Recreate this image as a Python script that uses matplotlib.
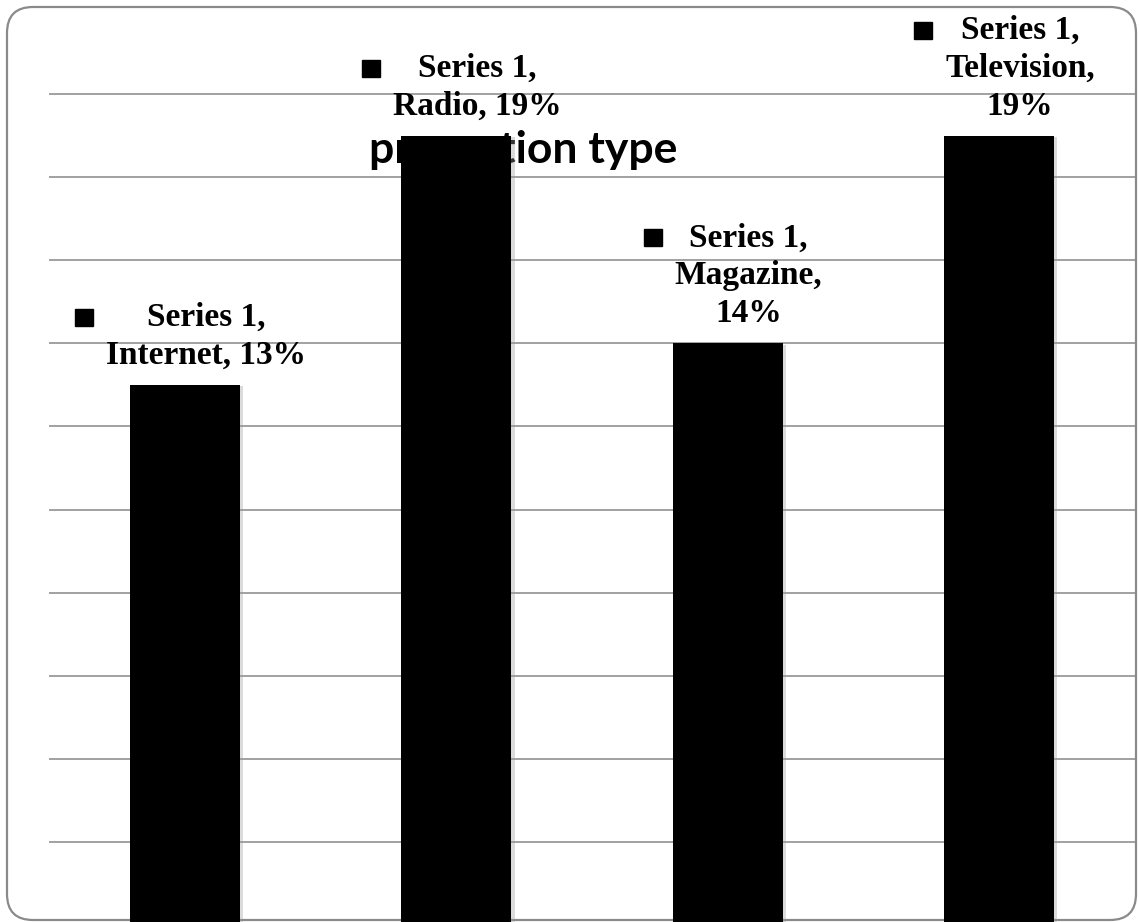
import numpy as np
import matplotlib
matplotlib.use('Agg')
from matplotlib import pyplot as plt
from matplotlib.patches import FancyBboxPatch, Rectangle
from matplotlib.transforms import IdentityTransform
import matplotlib.patheffects as pe

categories  = ['Internet', 'Radio', 'Magazine', 'Television']
values      = [0.13, 0.19, 0.14, 0.19]
data_labels = ['Series 1,\nInternet, 13%',
               'Series 1,\nRadio, 19%',
               'Series 1,\nMagazine,\n14%',
               'Series 1,\nTelevision,\n19%']
title       = 'promotion type'
grid_ticks  = np.arange(0.02, 0.201, 0.02)

W, H = 1139, 922
fig = plt.figure(figsize=(W / 100, H / 100), dpi=100, facecolor='w')
ymax = 0.2006
ax = fig.add_axes([49.3 / W, -3 / H, 1085.4 / W, 831 * ymax / 0.2 / H])
ax.patch.set_visible(False)

x = np.arange(len(categories))
bars = ax.bar(x, values, width=0.405, color='black', zorder=3)
for b in bars:
    b.set_path_effects([pe.SimplePatchShadow(offset=(2.5, -1), shadow_rgbFace='#999999', alpha=0.35),
                        pe.Normal()])

ax.set_xlim(-0.5, len(categories) - 0.5)
ax.set_ylim(0, ymax)
ax.set_yticks(grid_ticks)
ax.yaxis.grid(True, color='#878787', lw=1.1, zorder=0)
ax.tick_params(left=False, bottom=False, labelleft=False, labelbottom=False)
for s in ax.spines.values():
    s.set_visible(False)

# chart title sits behind the bars like in the original
ax.text(0.4363, 0.914, title, transform=ax.transAxes, ha='center', va='baseline',
        fontsize=32, fontweight='bold', family='Lato', zorder=2)

texts = []
for xi, v, lbl in zip(x, values, data_labels):
    t = ax.annotate(lbl, xy=(xi, v), xytext=(15, 10), textcoords='offset points',
                    ha='center', va='bottom', multialignment='center',
                    fontsize=24, fontweight='bold', family='Liberation Serif',
                    linespacing=1.29, zorder=4)
    texts.append(t)

fig.canvas.draw()
r = fig.canvas.get_renderer()
for t in texts:
    bb = t.get_window_extent(r)
    fig.add_artist(Rectangle((bb.x0 - 13 - 18, bb.y1 - 24), 18, 17, color='black',
                             transform=IdentityTransform()))

border = FancyBboxPatch((7, 2), 1129, 913, boxstyle='round,pad=0,rounding_size=26',
                        transform=IdentityTransform(), fill=False, ec='#8a8a8a', lw=1.6, zorder=-1)
fig.add_artist(border)

plt.savefig('out.png', dpi=100)
